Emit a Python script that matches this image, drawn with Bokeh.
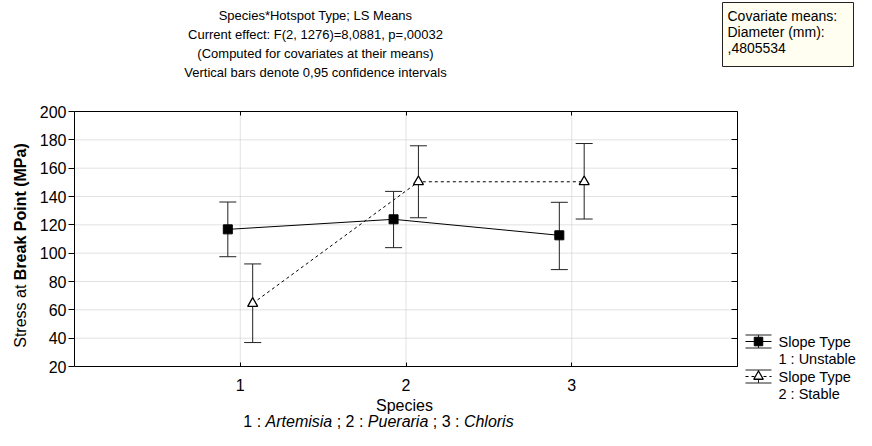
import math
from bokeh.plotting import figure
from bokeh.models import Range1d, LinearAxis, FixedTicker, Label
from bokeh.embed import file_html
from bokeh.resources import INLINE

# ---------------- data ----------------
species = [1, 2, 3]
species_names = ["Artemisia", "Pueraria", "Chloris"]
unstable_mean = [116.8, 123.9, 112.6]
unstable_low = [97.5, 103.9, 88.4]
unstable_high = [136.1, 143.6, 135.9]
stable_mean = [64.5, 150.4, 150.4]
stable_low = [36.9, 125.0, 124.1]
stable_high = [92.4, 175.8, 177.4]
y_ticks = [20, 40, 60, 80, 100, 120, 140, 160, 180, 200]
x_ticks = [1, 2, 3]
grid_y = [40, 60, 80, 100, 120, 140, 160, 180]
title_lines = ["Species*Hotspot Type; LS Means",
               "Current effect: F(2, 1276)=8,0881, p=,00032",
               "(Computed for covariates at their means)",
               "Vertical bars denote 0,95 confidence intervals"]
cov_lines = ["Covariate means:", "Diameter (mm):", ",4805534"]
legend_lines = [("Slope Type", "1 : Unstable"), ("Slope Type", "2 : Stable")]

# ---------------- layout helpers ----------------
FONT = "Liberation Sans"
W, H = 856, 430
FL, FR, FT, FB = 74, 737, 111, 366     # plot box in canvas px
XMIN, XMAX, YMIN, YMAX = 0, 4, 20, 200
kx = (XMAX - XMIN) / (FR - FL)
ky = (YMAX - YMIN) / (FB - FT)

def dx(px):
    return XMIN + (px - FL) * kx

def dy(py):
    return YMAX - (py - FT) * ky

REG = {' ': 278, '(': 333, ')': 333, '*': 389, ',': 278, '.': 278, ':': 278, ';': 278, '=': 584,
       'A': 667, 'B': 667, 'C': 722, 'D': 722, 'E': 667, 'F': 611, 'H': 722, 'L': 556, 'M': 833,
       'P': 667, 'S': 667, 'T': 611, 'U': 722, 'V': 667, 'a': 556, 'b': 556, 'c': 500, 'd': 556,
       'e': 556, 'f': 278, 'h': 556, 'i': 222, 'k': 500, 'l': 222, 'm': 833, 'n': 556, 'o': 556,
       'p': 556, 'r': 333, 's': 500, 't': 278, 'u': 556, 'v': 500, 'y': 500}
BOLD = {' ': 278, '(': 333, ')': 333, 'B': 722, 'M': 833, 'P': 667, 'a': 556, 'e': 556, 'i': 278,
        'k': 556, 'n': 611, 'o': 611, 'r': 389, 't': 333}

def tw(s, fs, bold=False):
    tab = BOLD if bold else REG
    return sum(tab.get(c, 556) for c in s) * fs / 1000.0

def label(x, y, text, fs, align="left", style="normal", angle=0.0):
    return Label(x=dx(x), y=dy(y), text=text, text_font=FONT, text_font_size=f"{fs}px",
                 text_font_style=style, text_align=align, text_baseline="middle",
                 text_color="black", angle=angle)

p = figure(width=W, height=H, x_range=Range1d(dx(0), dx(W)), y_range=Range1d(dy(H), dy(0)),
           output_backend="svg", toolbar_location=None, min_border=0,
           x_axis_type=None, y_axis_type=None)
p.outline_line_color = None
p.title.visible = False
p.background_fill_color = "white"
p.border_fill_color = "white"

def make_axis(loc, bounds, ticks, tin, tout, labels, standoff):
    return LinearAxis(fixed_location=loc, bounds=bounds, ticker=FixedTicker(ticks=ticks),
                      major_tick_in=tin, major_tick_out=tout, minor_tick_in=0, minor_tick_out=0,
                      axis_line_color="black", axis_line_width=1, major_tick_line_color="black",
                      major_label_text_font=FONT, major_label_text_font_size="16px",
                      major_label_text_color="black" if labels else None,
                      major_label_standoff=standoff)

p.add_layout(make_axis(XMIN, (YMIN, YMAX), y_ticks, 0, 6, True, 2), "left")
p.add_layout(make_axis(XMAX, (YMIN, YMAX), y_ticks, 6, 0, False, 2), "right")
p.add_layout(make_axis(YMIN, (XMIN, XMAX), x_ticks, 4, 0, True, 12), "below")
p.add_layout(make_axis(YMAX, (XMIN, XMAX), x_ticks, 4, 0, False, 2), "above")

# grid
p.segment(x0=[XMIN] * len(grid_y), y0=grid_y, x1=[XMAX] * len(grid_y), y1=grid_y,
          line_color="#C4C4C4", line_dash="1 1", line_width=1)
p.segment(x0=x_ticks, y0=[YMIN] * 3, x1=x_ticks, y1=[YMAX] * 3,
          line_color="#C4C4C4", line_dash="1 1", line_width=1)

# series
shift = 0.075
xu = [s - shift for s in species]
xs = [s + shift for s in species]
p.line(xu, unstable_mean, line_color="black", line_width=1)
p.line(xs, stable_mean, line_color="black", line_width=1, line_dash="3 3")
for xx, lo, hi in ((xu, unstable_low, unstable_high), (xs, stable_low, stable_high)):
    p.segment(x0=xx, y0=lo, x1=xx, y1=hi, line_color="#222222", line_width=1)
    p.scatter(xx, lo, marker="dash", size=17, line_color="#222222", line_width=1)
    p.scatter(xx, hi, marker="dash", size=17, line_color="#222222", line_width=1)
p.scatter(xu, unstable_mean, marker="square", size=9, fill_color="black", line_color="black")
p.scatter(xs, stable_mean, marker="triangle", size=10, fill_color="white", line_color="black",
          line_width=1.3)

# titles
TFS = 13
for i, t in enumerate(title_lines):
    p.add_layout(label(315, 15 + i * 19, t, TFS, align="center"))

# covariate box
CFS = 14
p.quad(left=[dx(722)], right=[dx(853)], top=[dy(2)], bottom=[dy(66)],
       fill_color="#FFFEF0", line_color="#222222", line_width=1)
for i, t in enumerate(cov_lines):
    p.add_layout(label(727, 15 + i * 16, t, CFS))

# y axis label (mixed style)
YFS = 16
ylen = tw("Stress at ", YFS) + tw("Break Point (MPa)", YFS, True)
ys0 = 245 + ylen / 2
p.add_layout(label(20, ys0, "Stress at", YFS, angle=math.pi / 2))
p.add_layout(label(20, ys0 - tw("Stress at ", YFS), "Break Point (MPa)", YFS, style="bold",
                   angle=math.pi / 2))

# x axis label
XFS = 16
p.add_layout(label(404, 405, "Species", XFS, align="center"))
segs = []
for i, (num, name) in enumerate(zip(species, species_names)):
    segs.append((("" if i == 0 else " ; ") + f"{num} : ", "normal"))
    segs.append((name, "italic"))
total = sum(tw(s, XFS) for s, _ in segs)
cx = 378 - total / 2
for s, st in segs:
    lead = len(s) - len(s.lstrip(" "))
    p.add_layout(label(cx + tw(" " * lead, XFS), 421, s.strip(" "), XFS, style=st))
    cx += tw(s, XFS)

# legend
LFS = 14.5
leg_x0, leg_x1 = 745, 771
leg_cy = [341, 376]
styles = [("solid", "square", "black", 8.5), ("3 3", "triangle", "white", 9.5)]
for cy, (dash, mk, fc, sz), (l1, l2) in zip(leg_cy, styles, legend_lines):
    xm = (leg_x0 + leg_x1) / 2
    cap = 6.5
    p.segment(x0=[dx(leg_x0)] * 2, y0=[dy(cy - cap), dy(cy + cap)],
              x1=[dx(leg_x1)] * 2, y1=[dy(cy - cap), dy(cy + cap)],
              line_color="#222222", line_width=1)
    p.segment(x0=[dx(xm)], y0=[dy(cy - cap)], x1=[dx(xm)], y1=[dy(cy + cap)],
              line_color="#222222", line_width=1)
    p.segment(x0=[dx(leg_x0)], y0=[dy(cy)], x1=[dx(leg_x1)], y1=[dy(cy)],
              line_color="black", line_width=1, line_dash=dash)
    p.scatter([dx(xm)], [dy(cy)], marker=mk, size=sz, fill_color=fc, line_color="black",
              line_width=1.3 if mk == "triangle" else 1)
    p.add_layout(label(778, cy, l1, LFS))
    p.add_layout(label(778, cy + 17.5, l2, LFS))

open("out.html", "w").write(file_html(p, INLINE))
